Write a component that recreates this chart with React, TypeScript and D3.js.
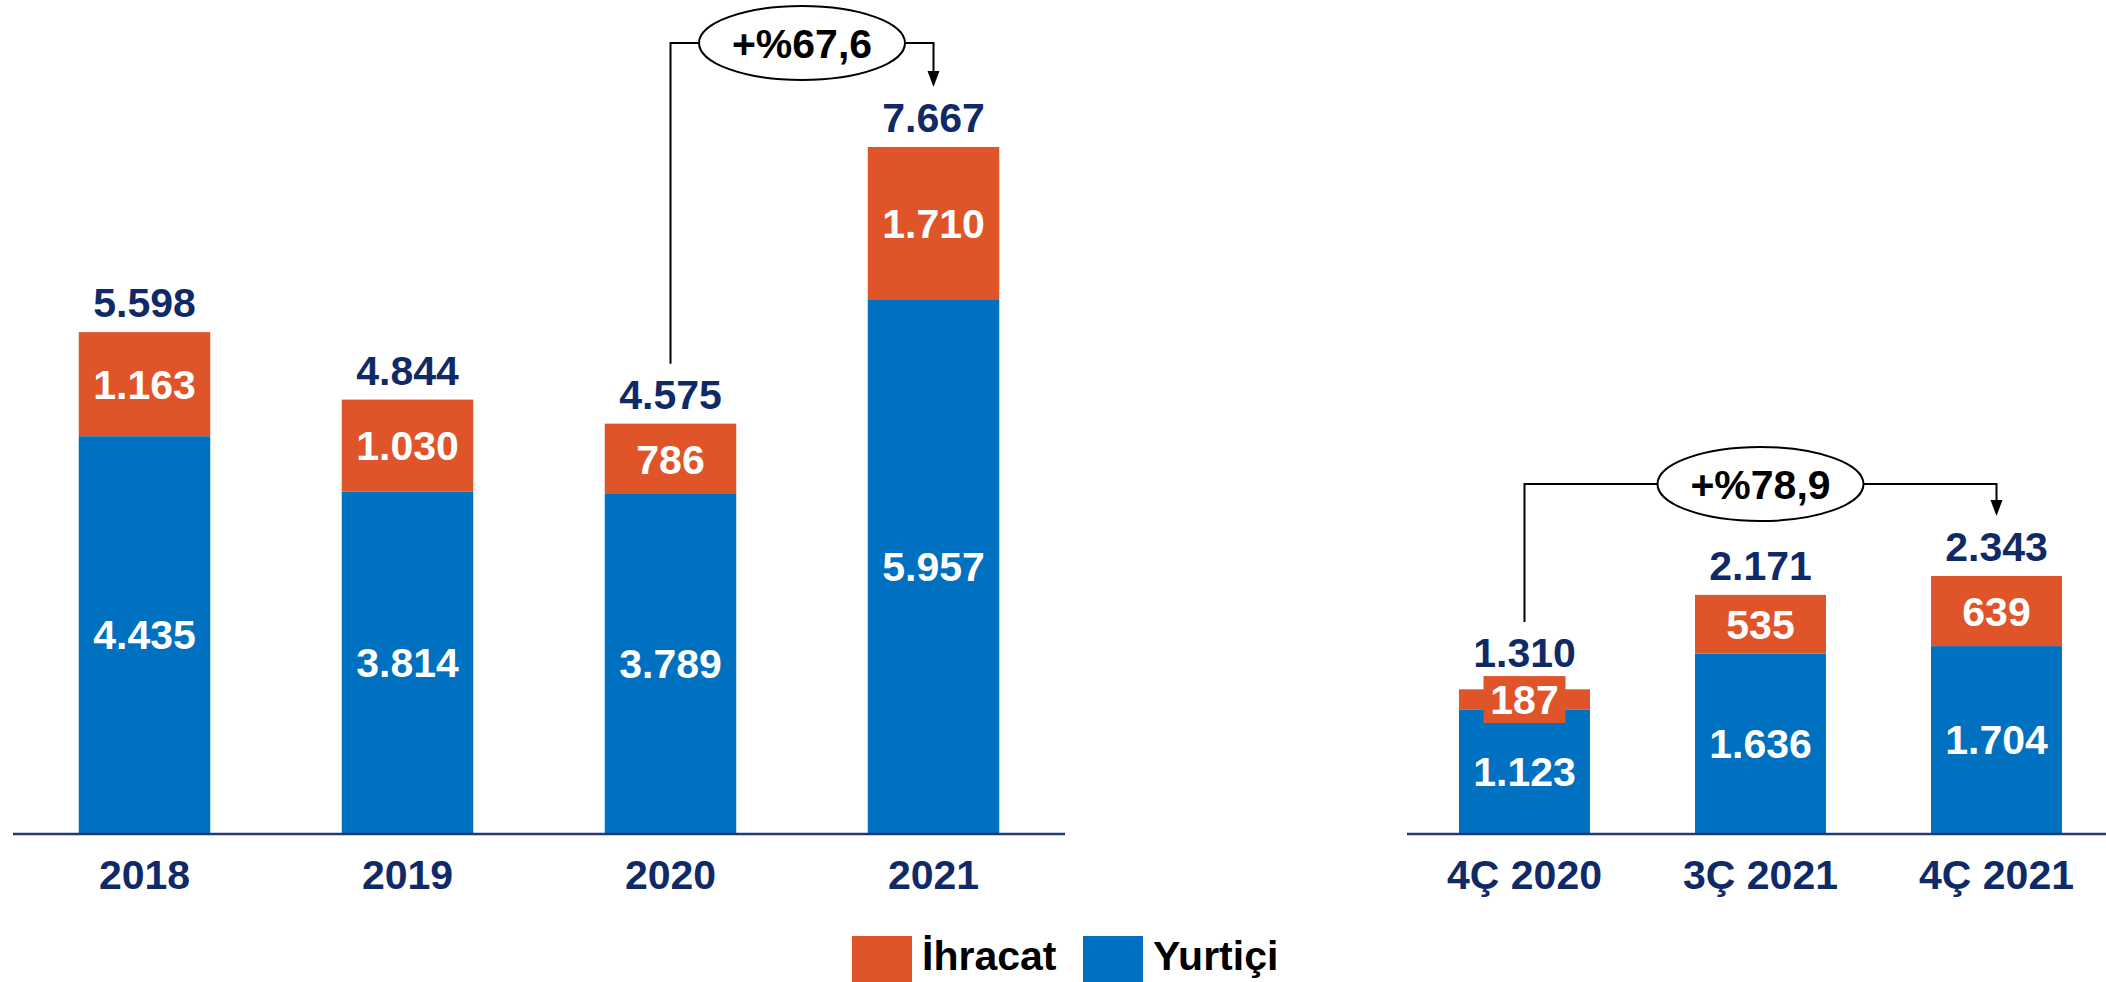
import { useEffect, useRef } from 'react';
import * as d3 from 'd3';

// Annual figures
const years = ['2018', '2019', '2020', '2021'];
const yearDomestic = [4435, 3814, 3789, 5957];
const yearExport = [1163, 1030, 786, 1710];

// Quarterly figures
const quarters = ['4Ç 2020', '3Ç 2021', '4Ç 2021'];
const quarterDomestic = [1123, 1636, 1704];
const quarterExport = [187, 535, 639];

const growthLabels = ['+%67,6', '+%78,9'];
const legendLabels = ['İhracat', 'Yurtiçi'];

const ORANGE = '#e0542a';
const BLUE = '#0070c0';
const NAVY = '#0f2a66';
const FONT = '"Liberation Sans", Arial, sans-serif';

const svgWidth = 2106;
const svgHeight = 982;
const baseY = 833;

const fmt = d3
  .formatLocale({ decimal: ',', thousands: '.', grouping: [3], currency: ['', ''] })
  .format(',d');

type Row = { cat: string; domestic: number; export: number };

type Panel = {
  cats: string[];
  domestic: number[];
  exp: number[];
  xRange: [number, number];
  paddingInner: number;
  yTop: number;
  axis: [number, number];
  growth: string;
  bracketY: number;
};

function App() {
  const ref = useRef<SVGSVGElement>(null);

  useEffect(() => {
    const svg = d3.select(ref.current);
    svg.selectAll('*').remove();

    const panels: Panel[] = [
      {
        cats: years,
        domestic: yearDomestic,
        exp: yearExport,
        xRange: [13, 1065],
        paddingInner: 0.5,
        yTop: 147,
        axis: [13, 1065],
        growth: growthLabels[0],
        bracketY: 43,
      },
      {
        cats: quarters,
        domestic: quarterDomestic,
        exp: quarterExport,
        xRange: [1406.5, 2114.5],
        paddingInner: 0.445,
        yTop: 576,
        axis: [1407, 2106],
        growth: growthLabels[1],
        bracketY: 484,
      },
    ];

    panels.forEach((p) => {
      const rows: Row[] = p.cats.map((c, i) => ({
        cat: c,
        domestic: p.domestic[i],
        export: p.exp[i],
      }));
      const totals = rows.map((r) => r.domestic + r.export);

      const x = d3
        .scaleBand()
        .domain(p.cats)
        .range(p.xRange)
        .paddingInner(p.paddingInner)
        .paddingOuter(p.paddingInner / 2);

      const y = d3
        .scaleLinear()
        .domain([0, d3.max(totals) as number])
        .range([baseY, p.yTop]);

      const stack = d3.stack<Row>().keys(['domestic', 'export'])(rows);
      const colors = [BLUE, ORANGE];

      const g = svg.append('g');

      // Bars
      stack.forEach((layer, li) => {
        g.append('g')
          .attr('fill', colors[li])
          .selectAll('rect')
          .data(layer)
          .join('rect')
          .attr('x', (d) => x(d.data.cat) as number)
          .attr('y', (d) => y(d[1]))
          .attr('width', x.bandwidth())
          .attr('height', (d) => y(d[0]) - y(d[1]));
      });

      // Axis line
      g.append('line')
        .attr('x1', p.axis[0])
        .attr('x2', p.axis[1])
        .attr('y1', baseY + 1)
        .attr('y2', baseY + 1)
        .attr('stroke', '#203a78')
        .attr('stroke-width', 2.5);

      // Segment labels
      const labelTops: number[] = totals.map((t) => y(t));
      stack.forEach((layer, li) => {
        layer.forEach((d, i) => {
          const cx = (x(d.data.cat) as number) + x.bandwidth() / 2;
          const y0 = y(d[0]);
          const y1 = y(d[1]);
          const cy = (y0 + y1) / 2;
          if (y0 - y1 < 50) {
            g.append('rect')
              .attr('x', cx - 41)
              .attr('y', cy - 23.5)
              .attr('width', 82)
              .attr('height', 47)
              .attr('fill', colors[li]);
            if (li === 1) labelTops[i] = Math.min(labelTops[i], cy - 23.5 + 6);
          }
          g.append('text')
            .attr('x', cx)
            .attr('y', cy)
            .attr('dy', '0.36em')
            .attr('text-anchor', 'middle')
            .attr('fill', '#fff')
            .attr('font-family', FONT)
            .attr('font-weight', 'bold')
            .attr('font-size', 41)
            .text(fmt(d[1] - d[0]));
        });
      });

      // Total labels
      const totalBase = labelTops.map((t) => t - 15);
      g.selectAll('text.total')
        .data(rows)
        .join('text')
        .attr('class', 'total')
        .attr('x', (d) => (x(d.cat) as number) + x.bandwidth() / 2)
        .attr('y', (_, i) => totalBase[i])
        .attr('text-anchor', 'middle')
        .attr('fill', NAVY)
        .attr('font-family', FONT)
        .attr('font-weight', 'bold')
        .attr('font-size', 41)
        .text((_, i) => fmt(totals[i]));

      // Category labels
      g.selectAll('text.cat')
        .data(p.cats)
        .join('text')
        .attr('class', 'cat')
        .attr('x', (d) => (x(d) as number) + x.bandwidth() / 2)
        .attr('y', 889)
        .attr('text-anchor', 'middle')
        .attr('fill', NAVY)
        .attr('font-family', FONT)
        .attr('font-weight', 'bold')
        .attr('font-size', 41)
        .text((d) => d);

      // Growth bracket between the first compared bar and the last one
      const i0 = p.cats.length === 4 ? 2 : 0;
      const i1 = p.cats.length - 1;
      const xa = (x(p.cats[i0]) as number) + x.bandwidth() / 2;
      const xb = (x(p.cats[i1]) as number) + x.bandwidth() / 2;
      const ya = totalBase[i0] - 45;
      const yb = totalBase[i1] - 45;
      const by = p.bracketY;
      const ex = (xa + xb) / 2;

      g.append('path')
        .attr('d', `M${xa},${ya}V${by}H${xb}V${yb - 14}`)
        .attr('fill', 'none')
        .attr('stroke', '#000')
        .attr('stroke-width', 2);
      g.append('path')
        .attr('d', `M${xb - 6},${yb - 16}L${xb + 6},${yb - 16}L${xb},${yb}Z`)
        .attr('fill', '#000');
      g.append('ellipse')
        .attr('cx', ex)
        .attr('cy', by)
        .attr('rx', 103)
        .attr('ry', 37)
        .attr('fill', '#fff')
        .attr('stroke', '#000')
        .attr('stroke-width', 2);
      g.append('text')
        .attr('x', ex)
        .attr('y', by)
        .attr('dy', '0.36em')
        .attr('text-anchor', 'middle')
        .attr('fill', '#000')
        .attr('font-family', FONT)
        .attr('font-weight', 'bold')
        .attr('font-size', 41)
        .text(p.growth);
    });

    // Legend
    const legendX = [852, 1083];
    const legendColors = [ORANGE, BLUE];
    const legend = svg.append('g');
    legendLabels.forEach((l, i) => {
      legend
        .append('rect')
        .attr('x', legendX[i])
        .attr('y', 936)
        .attr('width', 60)
        .attr('height', 60)
        .attr('fill', legendColors[i]);
      legend
        .append('text')
        .attr('x', legendX[i] + 70)
        .attr('y', 970)
        .attr('fill', '#000')
        .attr('font-family', FONT)
        .attr('font-weight', 'bold')
        .attr('font-size', 41)
        .text(l);
    });
  }, []);

  return (
    <svg
      ref={ref}
      width={svgWidth}
      height={svgHeight}
      style={{ position: 'absolute', left: 0, top: 0, display: 'block', background: '#fff' }}
    ></svg>
  );
}

export default App;
